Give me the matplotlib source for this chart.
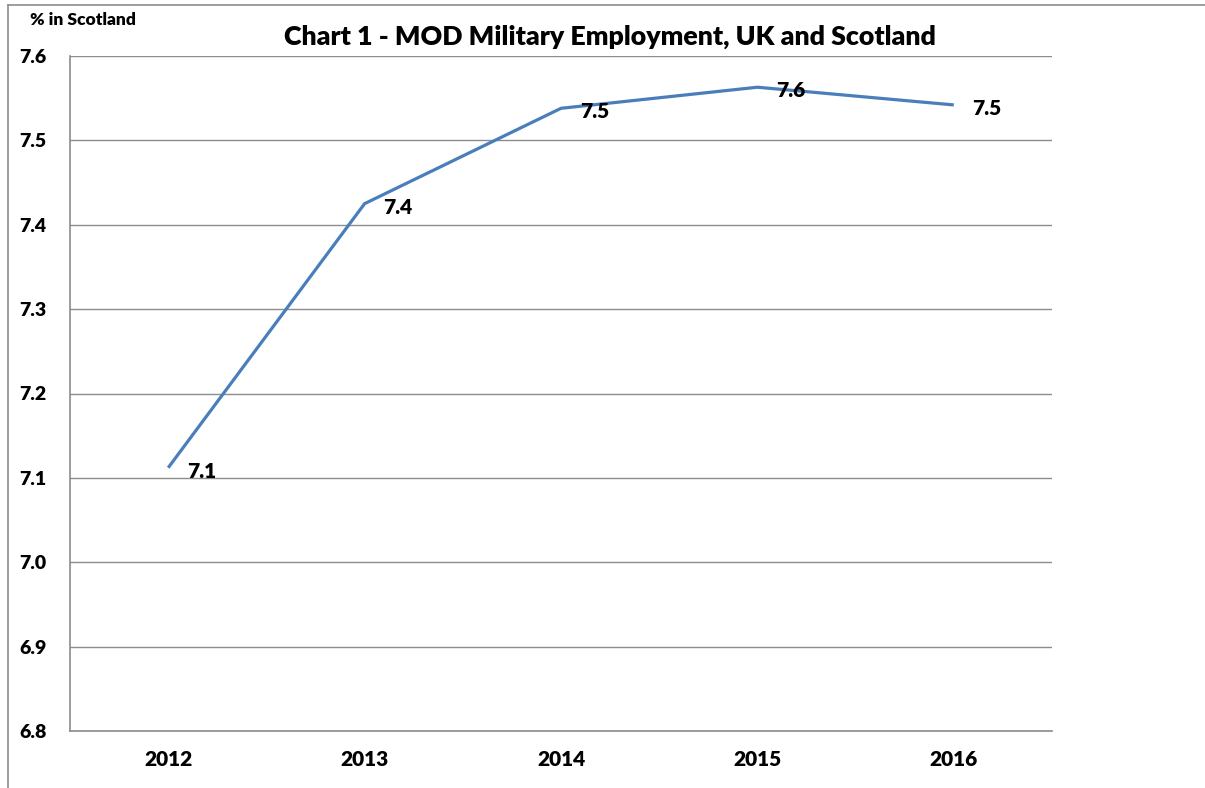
import matplotlib
matplotlib.use("Agg")
import matplotlib.pyplot as plt
from matplotlib.lines import Line2D

years = ["2012", "2013", "2014", "2015", "2016"]
pct_scotland = [7.112, 7.425, 7.538, 7.563, 7.542]
labels = ["7.1", "7.4", "7.5", "7.6", "7.5"]
yticks = [6.8, 6.9, 7.0, 7.1, 7.2, 7.3, 7.4, 7.5, 7.6]

FONT = ["Lato", "DejaVu Sans"]
plt.rcParams["font.family"] = FONT
WEIGHT = "heavy"

W, H = 1205, 788
fig = plt.figure(figsize=(W / 100, H / 100), dpi=100)
ax = fig.add_axes([70 / W, 1 - 731 / H, (1052 - 70) / W, (731 - 56) / H])

x = list(range(len(years)))
ax.plot(x, pct_scotland, color="#4A7EBB", lw=2.3, solid_capstyle="butt", zorder=3)
for xi, yi, lab in zip(x, pct_scotland, labels):
    ax.annotate(lab, (xi, yi), xytext=(13.5, -2.5), textcoords="offset points",
                ha="left", va="center", fontsize=15, fontweight=WEIGHT, color="black")

ax.set_xlim(-0.5, len(years) - 0.5)
ax.set_ylim(6.8, 7.6)
ax.set_yticks(yticks)
ax.set_yticklabels([f"{v:.1f}" for v in yticks])
ax.set_xticks(x)
ax.set_xticklabels(years)
ax.tick_params(axis="both", length=0, colors="black")
ax.tick_params(axis="x", labelsize=15, pad=14)
ax.tick_params(axis="y", labelsize=14, pad=17)
for lbl in ax.get_xticklabels() + ax.get_yticklabels():
    lbl.set_fontweight(WEIGHT)

ax.grid(axis="y", color="#8C8C8C", lw=1.0)
ax.set_axisbelow(True)
for s in ["top", "right"]:
    ax.spines[s].set_visible(False)
for s in ["left", "bottom"]:
    ax.spines[s].set_color("#8C8C8C")
    ax.spines[s].set_linewidth(1.2)

fig.text(610 / W, 1 - 36.5 / H, "Chart 1 - MOD Military Employment, UK and Scotland",
         ha="center", va="center", fontsize=19.3, fontweight=WEIGHT)
fig.text(30 / W, 1 - 20 / H, "% in Scotland", ha="left", va="center",
         fontsize=12.5, fontweight=WEIGHT)

# outer chart frame (cropped)
fig.add_artist(Line2D([8 / W, 1.0], [1 - 4.5 / H, 1 - 4.5 / H], color="#8C8C8C", lw=1.2,
                      transform=fig.transFigure))
fig.add_artist(Line2D([8 / W, 8 / W], [0, 1 - 4.5 / H], color="#8C8C8C", lw=1.2,
                      transform=fig.transFigure))

fig.savefig("out.png", dpi=100, facecolor="white")
